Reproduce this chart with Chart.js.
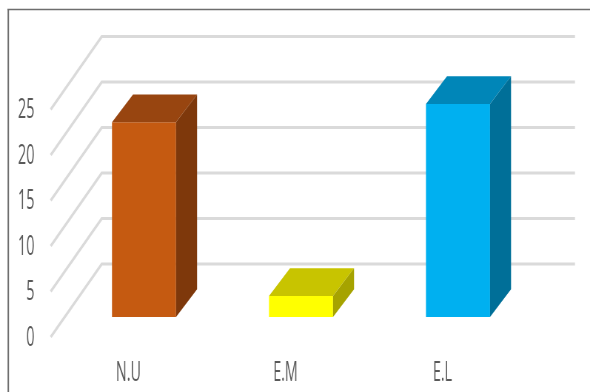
<!DOCTYPE html>
<html>
<head>
<meta charset="utf-8">
<script src="https://cdn.jsdelivr.net/npm/chart.js@4/dist/chart.umd.min.js"></script>
<style>
  html, body { margin: 0; padding: 0; background: #fff; overflow: hidden; }
  #wrap { position: absolute; left: 0; top: 0; width: 797px; height: 392px;
          transform: scaleX(0.74027); transform-origin: 0 0; }
</style>
</head>
<body>
<div id="wrap"><canvas id="c"></canvas></div>
<script>
// ---- data ----
const categories = ['N.U', 'E.M', 'E.L'];
const values = [21.4, 2.3, 23.4];
const yTicks = [0, 5, 10, 15, 20, 25];

// ---- styles ----
const frontColors = ['#C55A11', '#FFFF00', '#00B0F0'];
const topColors   = ['#984510', '#C8C400', '#0086B8'];
const sideColors  = ['#7E380B', '#A6A300', '#006F98'];
const gridColor = '#dadada';
const textColor = '#595959';
const fontFamily = "'Open Sans', 'Noto Sans', sans-serif";
const fontSize = 27;
const textSqueeze = 0.72;   // narrow glyphs like the reference

const depthDX = 28.4, depthDY = -27.7;       // bar depth (internal px)
const backDX = 49, backDY = -53;             // back wall offset from bar plane
const frontDX = -20, frontDY = 20;           // front edge offset from bar plane

const box3d = {
  id: 'box3d',
  beforeDraw(chart) {
    const ctx = chart.ctx;
    ctx.save();
    ctx.fillStyle = '#fff';
    ctx.fillRect(0, 0, chart.width, chart.height);
    ctx.strokeStyle = '#6e6e6e';
    ctx.lineWidth = 2;
    ctx.beginPath();
    ctx.moveTo(11.2, 9.5); ctx.lineTo(11.2, chart.height + 5);
    ctx.stroke();
    ctx.lineWidth = 1.5;
    ctx.beginPath();
    ctx.moveTo(10, 9.5); ctx.lineTo(chart.width + 5, 9.5);
    ctx.stroke();
    ctx.restore();
    // condensed tick labels
    const orig = CanvasRenderingContext2D.prototype.fillText;
    ctx.fillText = function (t, x, y, mw) {
      this.save();
      this.translate(x, y);
      this.scale(textSqueeze, 1);
      if (mw === undefined) orig.call(this, t, 0, 0); else orig.call(this, t, 0, 0, mw);
      this.restore();
    };
  },
  beforeDatasetsDraw(chart) {
    const ctx = chart.ctx;
    delete ctx.fillText;
    const ys = chart.scales.y;
    const a = chart.chartArea;
    ctx.save();
    ctx.strokeStyle = gridColor;
    ctx.lineWidth = 3;
    ctx.lineCap = 'butt';
    yTicks.forEach(v => {
      const py = ys.getPixelForValue(v);
      ctx.beginPath();
      ctx.moveTo(a.left + frontDX, py + frontDY);
      ctx.lineTo(a.left + backDX, py + backDY);
      ctx.lineTo(a.right + backDX + 3, py + backDY);
      ctx.stroke();
    });
    ctx.restore();
  },
  afterDatasetsDraw(chart) {
    const ctx = chart.ctx;
    const meta = chart.getDatasetMeta(0);
    ctx.save();
    meta.data.forEach((bar, i) => {
      const p = bar.getProps(['x', 'y', 'base', 'width'], true);
      const L = p.x - p.width / 2, R = p.x + p.width / 2;
      const T = p.y, B = p.base;
      // top face
      ctx.fillStyle = topColors[i];
      ctx.beginPath();
      ctx.moveTo(L, T);
      ctx.lineTo(L + depthDX, T + depthDY);
      ctx.lineTo(R + depthDX, T + depthDY);
      ctx.lineTo(R, T);
      ctx.closePath();
      ctx.fill();
      // side face
      ctx.fillStyle = sideColors[i];
      ctx.beginPath();
      ctx.moveTo(R, T);
      ctx.lineTo(R + depthDX, T + depthDY);
      ctx.lineTo(R + depthDX, B + depthDY);
      ctx.lineTo(R, B);
      ctx.closePath();
      ctx.fill();
    });
    ctx.restore();
  }
};

new Chart(document.getElementById('c'), {
  type: 'bar',
  data: {
    labels: categories,
    datasets: [{
      data: values,
      backgroundColor: frontColors,
      borderWidth: 0,
      barPercentage: 0.408,
      categoryPercentage: 1
    }]
  },
  options: {
    responsive: true,
    maintainAspectRatio: false,
    animation: false,
    layout: { padding: { top: 89.5, left: 0, right: 72.3, bottom: 0 } },
    plugins: { legend: { display: false }, tooltip: { enabled: false } },
    scales: {
      x: {
        grid: { display: false, drawTicks: false },
        border: { display: false },
        ticks: {
          color: textColor,
          font: { family: fontFamily, size: fontSize },
          padding: 40,
          labelOffset: -21,
          maxRotation: 0,
          autoSkip: false
        },
        afterFit: s => { s.height = 75; }
      },
      y: {
        min: 0,
        max: 25,
        grid: { display: false, drawTicks: false },
        border: { display: false },
        afterBuildTicks: s => { s.ticks = yTicks.map(v => ({ value: v })); },
        ticks: {
          color: textColor,
          font: { family: fontFamily, size: fontSize },
          padding: 42,
          labelOffset: 21
        },
        afterFit: s => { s.width = 88.5; }
      }
    }
  },
  plugins: [box3d]
});
</script>
</body>
</html>
